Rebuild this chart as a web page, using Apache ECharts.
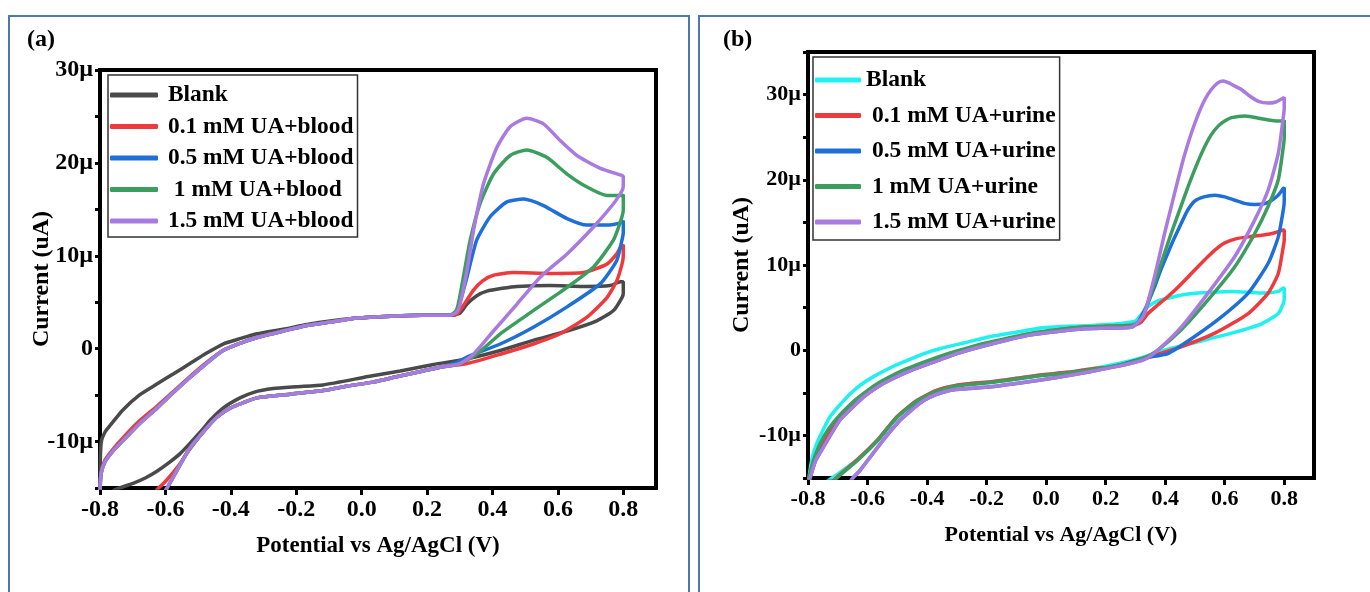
<!DOCTYPE html>
<html>
<head>
<meta charset="utf-8">
<script src="https://cdn.jsdelivr.net/npm/echarts@6/dist/echarts.min.js"></script>
<style>
html, body { margin: 0; padding: 0; width: 1370px; height: 592px; overflow: hidden; background: #fff; }
.frame { position: absolute; top: 15px; height: 640px; border: 2px solid #4d78ad; }
#frameA { left: 8px; width: 678px; }
#frameB { left: 698px; width: 720px; }
.chart { position: absolute; top: 0; height: 592px; }
#chartA { left: 0; width: 694px; }
#chartB { left: 694px; width: 676px; }
</style>
</head>
<body>
<div class="frame" id="frameA"></div>
<div class="frame" id="frameB"></div>
<div class="chart" id="chartA"></div>
<div class="chart" id="chartB"></div>
<script>
// ---- panel (a): uric acid spiked in blood, [potential V, current µA]
const namesA = ['Blank', '0.1 mM UA+blood', '0.5 mM UA+blood', '1 mM UA+blood', '1.5 mM UA+blood']
const colorsA = ['#4a4a4a', '#ee3a3c', '#1f6fd8', '#3b9e5e', '#a97ae0']

const blankBlood = [[-0.8,-17],[-0.799,-12],[-0.796,-10],[-0.785,-9.0],[-0.77,-8.3],[-0.73,-6.6],[-0.68,-5.0],[-0.626,-3.8],[-0.575,-2.7],[-0.525,-1.6],[-0.475,-0.5],[-0.424,0.5],[-0.37,1.1],[-0.32,1.6],[-0.24,2.1],[-0.167,2.6],[-0.09,3.0],[-0.014,3.3],[0.09,3.5],[0.188,3.6],[0.27,3.6],[0.3,3.8],[0.322,4.8],[0.352,5.7],[0.383,6.2],[0.43,6.5],[0.475,6.7],[0.577,6.8],[0.678,6.7],[0.76,6.8],[0.791,7.2],[0.8,7.2],
  [0.8,6.0],[0.796,5.5],[0.77,4.1],[0.719,3.0],[0.628,1.9],[0.525,0.9],[0.424,-0.2],[0.322,-1.1],[0.22,-1.7],[0.118,-2.4],[0.02,-3.0],[-0.118,-3.9],[-0.2,-4.1],[-0.271,-4.3],[-0.33,-4.7],[-0.372,-5.3],[-0.424,-6.4],[-0.46,-7.6],[-0.494,-9.0],[-0.525,-10.2],[-0.555,-11.3],[-0.59,-12.3],[-0.626,-13.2],[-0.66,-13.9],[-0.699,-14.5],[-0.748,-15.1],[-0.78,-15.8],[-0.8,-17]]

const ua01Blood = [[-0.8,-15.5],[-0.797,-13.4],[-0.785,-12.0],[-0.76,-10.8],[-0.73,-9.6],[-0.68,-7.8],[-0.626,-6.2],[-0.575,-4.6],[-0.525,-3.0],[-0.475,-1.5],[-0.424,-0.2],[-0.37,0.6],[-0.32,1.2],[-0.24,1.9],[-0.167,2.5],[-0.09,2.9],[-0.014,3.3],[0.09,3.5],[0.188,3.6],[0.27,3.6],[0.291,3.7],[0.31,4.6],[0.342,6.3],[0.37,7.3],[0.403,7.9],[0.464,8.2],[0.577,8.1],[0.679,8.2],[0.75,9.1],[0.78,10.2],[0.791,10.9],[0.8,11.2],
  [0.8,10.0],[0.796,9.1],[0.78,7.3],[0.75,5.5],[0.689,3.4],[0.607,1.6],[0.525,0.5],[0.424,-0.6],[0.322,-1.6],[0.24,-2.0],[0.188,-2.4],[0.11,-3.0],[0.035,-3.6],[-0.04,-4.0],[-0.118,-4.5],[-0.219,-4.9],[-0.32,-5.3],[-0.402,-6.4],[-0.44,-7.3],[-0.473,-8.5],[-0.525,-10.8],[-0.56,-12.6],[-0.6,-14.3],[-0.626,-15.2],[-0.65,-16.5]]

const ua05Blood = [[-0.8,-15.5],[-0.797,-13.5],[-0.785,-12.2],[-0.76,-11.0],[-0.73,-9.9],[-0.68,-8.1],[-0.626,-6.4],[-0.575,-4.7],[-0.525,-3.1],[-0.475,-1.6],[-0.424,-0.2],[-0.37,0.6],[-0.32,1.2],[-0.24,1.9],[-0.167,2.5],[-0.09,2.9],[-0.014,3.3],[0.09,3.5],[0.188,3.6],[0.27,3.6],[0.291,4.1],[0.305,5.5],[0.322,7.7],[0.352,11.7],[0.393,14.2],[0.444,15.8],[0.495,16.1],[0.556,15.4],[0.628,14.0],[0.689,13.3],[0.75,13.3],[0.796,13.6],[0.8,13.8],
  [0.8,12.5],[0.796,11.7],[0.78,9.5],[0.73,7.0],[0.628,4.5],[0.525,2.3],[0.424,0.5],[0.322,-0.9],[0.291,-1.5],[0.24,-2.0],[0.188,-2.4],[0.11,-3.0],[0.035,-3.6],[-0.04,-4.0],[-0.118,-4.5],[-0.219,-4.9],[-0.32,-5.3],[-0.402,-6.4],[-0.44,-7.3],[-0.473,-8.5],[-0.525,-10.7],[-0.56,-12.8],[-0.595,-15],[-0.62,-16.5]]

const ua1Blood = [[-0.8,-15.5],[-0.797,-13.5],[-0.785,-12.2],[-0.76,-11.0],[-0.73,-9.9],[-0.68,-8.1],[-0.626,-6.4],[-0.575,-4.7],[-0.525,-3.1],[-0.475,-1.6],[-0.424,-0.2],[-0.37,0.6],[-0.32,1.2],[-0.24,1.9],[-0.167,2.5],[-0.09,2.9],[-0.014,3.3],[0.09,3.5],[0.188,3.6],[0.27,3.6],[0.291,4.2],[0.311,7.7],[0.332,11.7],[0.362,15.6],[0.403,18.8],[0.454,20.8],[0.505,21.4],[0.566,20.6],[0.628,18.8],[0.689,17.4],[0.75,16.5],[0.796,16.5],[0.8,16.6],
  [0.8,15.0],[0.796,14.2],[0.77,11.7],[0.709,8.8],[0.628,6.6],[0.525,4.1],[0.424,1.6],[0.352,-0.6],[0.301,-1.6],[0.24,-2.0],[0.188,-2.4],[0.11,-3.0],[0.035,-3.6],[-0.04,-4.0],[-0.118,-4.5],[-0.219,-4.9],[-0.32,-5.3],[-0.402,-6.4],[-0.44,-7.3],[-0.473,-8.5],[-0.525,-10.7],[-0.56,-12.8],[-0.595,-15],[-0.62,-16.5]]

const ua15Blood = [[-0.8,-15.5],[-0.797,-13.5],[-0.785,-12.2],[-0.76,-11.0],[-0.73,-9.9],[-0.68,-8.1],[-0.626,-6.4],[-0.575,-4.7],[-0.525,-3.1],[-0.475,-1.6],[-0.424,-0.2],[-0.37,0.6],[-0.32,1.2],[-0.24,1.9],[-0.167,2.5],[-0.09,2.9],[-0.014,3.3],[0.09,3.5],[0.188,3.6],[0.27,3.6],[0.29,3.9],[0.301,4.8],[0.322,8.4],[0.342,12.7],[0.373,17.8],[0.414,21.7],[0.454,23.9],[0.505,24.8],[0.556,24.2],[0.607,22.4],[0.658,20.8],[0.73,19.4],[0.791,18.7],[0.8,18.5],
  [0.8,17.5],[0.796,17.0],[0.77,15.6],[0.709,13.1],[0.628,10.2],[0.546,7.7],[0.475,4.8],[0.403,1.9],[0.342,-0.6],[0.301,-1.6],[0.24,-2.0],[0.188,-2.4],[0.11,-3.0],[0.035,-3.6],[-0.04,-4.0],[-0.118,-4.5],[-0.219,-4.9],[-0.32,-5.3],[-0.402,-6.4],[-0.44,-7.3],[-0.473,-8.5],[-0.525,-10.7],[-0.56,-12.8],[-0.595,-15],[-0.62,-16.5]]

// ---- panel (b): uric acid spiked in urine
const namesB = ['Blank', '0.1 mM UA+urine', '0.5 mM UA+urine', '1 mM UA+urine', '1.5 mM UA+urine']
const colorsB = ['#1ff0f0', '#ee3a3c', '#1f6fd8', '#3b9e5e', '#a97ae0']

const blankUrine = [[-0.8,-16],[-0.795,-14.5],[-0.785,-12.5],[-0.771,-11.0],[-0.75,-9.4],[-0.726,-7.8],[-0.69,-6.3],[-0.658,-5.1],[-0.62,-4.0],[-0.58,-3.1],[-0.52,-2.0],[-0.467,-1.2],[-0.41,-0.4],[-0.355,0.2],[-0.27,0.9],[-0.186,1.6],[-0.1,2.1],[-0.018,2.6],[0.07,2.8],[0.151,2.9],[0.24,3.1],[0.3,3.4],[0.32,4.2],[0.342,5.1],[0.375,5.8],[0.409,6.1],[0.46,6.5],[0.51,6.7],[0.623,6.9],[0.735,6.7],[0.78,6.9],[0.797,7.3],[0.8,7.3],
  [0.8,6.0],[0.797,5.5],[0.78,4.3],[0.724,3.1],[0.623,2.0],[0.51,1.0],[0.398,0],[0.319,-0.9],[0.24,-1.6],[0.151,-2.2],[0.07,-2.6],[-0.018,-2.9],[-0.1,-3.3],[-0.186,-3.7],[-0.3,-4.1],[-0.366,-4.7],[-0.434,-5.9],[-0.501,-7.8],[-0.568,-10.6],[-0.636,-12.9],[-0.703,-14.6],[-0.74,-15.5],[-0.78,-16.5]]

const ua01Urine = [[-0.8,-16],[-0.795,-14.8],[-0.78,-13],[-0.749,-10.8],[-0.72,-9.2],[-0.693,-7.9],[-0.65,-6.3],[-0.614,-5.2],[-0.57,-4.2],[-0.524,-3.3],[-0.47,-2.5],[-0.411,-1.6],[-0.355,-0.9],[-0.3,-0.3],[-0.22,0.5],[-0.13,1.3],[-0.05,1.9],[0.038,2.4],[0.12,2.7],[0.207,2.8],[0.27,2.9],[0.3,3.0],[0.319,3.3],[0.342,4.3],[0.375,5.3],[0.409,6.3],[0.443,7.4],[0.477,8.6],[0.51,9.8],[0.544,11.0],[0.572,11.9],[0.6,12.6],[0.64,13.1],[0.679,13.3],[0.746,13.6],[0.78,13.9],[0.797,14.1],[0.8,14.1],
  [0.8,13.0],[0.797,12.2],[0.78,9.0],[0.746,6.7],[0.679,4.3],[0.567,2.0],[0.454,0.4],[0.364,-0.6],[0.319,-1.2],[0.24,-1.9],[0.151,-2.2],[0.07,-2.6],[-0.018,-2.9],[-0.1,-3.3],[-0.186,-3.7],[-0.3,-4.1],[-0.366,-4.7],[-0.434,-5.9],[-0.501,-7.8],[-0.568,-10.6],[-0.636,-12.9],[-0.703,-14.9],[-0.73,-16]]

const ua05Urine = [[-0.8,-16],[-0.793,-15],[-0.775,-13],[-0.749,-11.4],[-0.72,-9.7],[-0.693,-8.2],[-0.65,-6.7],[-0.614,-5.5],[-0.57,-4.4],[-0.524,-3.5],[-0.47,-2.6],[-0.411,-1.8],[-0.355,-1.1],[-0.3,-0.4],[-0.22,0.4],[-0.13,1.2],[-0.05,1.8],[0.038,2.2],[0.12,2.5],[0.207,2.6],[0.286,2.7],[0.305,3.1],[0.319,3.9],[0.34,5.4],[0.364,7.4],[0.385,9.4],[0.409,11.4],[0.43,13.1],[0.454,14.9],[0.475,16.4],[0.499,17.5],[0.53,18.0],[0.567,18.2],[0.6,18.0],[0.634,17.6],[0.67,17.2],[0.701,17.1],[0.735,17.2],[0.758,17.6],[0.78,18.2],[0.797,19.0],[0.8,19.1],
  [0.8,17.5],[0.797,16.5],[0.78,13.3],[0.746,10.2],[0.679,6.7],[0.589,3.9],[0.499,1.6],[0.409,-0.4],[0.33,-0.9],[0.24,-1.8],[0.151,-2.5],[0.07,-3.0],[-0.018,-3.5],[-0.1,-3.9],[-0.186,-4.3],[-0.26,-4.5],[-0.321,-4.7],[-0.37,-5.2],[-0.411,-5.9],[-0.45,-6.9],[-0.49,-8.2],[-0.525,-9.6],[-0.557,-11.0],[-0.59,-12.5],[-0.625,-14.1],[-0.647,-14.9],[-0.67,-16]]

const ua1Urine = [[-0.8,-16],[-0.795,-14.8],[-0.78,-12.8],[-0.76,-11.0],[-0.73,-9.2],[-0.693,-7.6],[-0.65,-6.1],[-0.614,-5.1],[-0.57,-4.0],[-0.524,-3.1],[-0.47,-2.2],[-0.411,-1.4],[-0.355,-0.7],[-0.3,-0.1],[-0.22,0.7],[-0.13,1.4],[-0.05,2.0],[0.038,2.4],[0.12,2.7],[0.207,2.8],[0.286,2.9],[0.31,3.3],[0.33,4.3],[0.352,6.6],[0.375,9.0],[0.398,11.4],[0.42,13.7],[0.449,16.5],[0.477,19.2],[0.505,21.7],[0.533,23.9],[0.555,25.3],[0.578,26.3],[0.6,26.9],[0.623,27.3],[0.668,27.5],[0.735,27.1],[0.78,26.9],[0.797,26.9],[0.8,27.0],
  [0.8,25.0],[0.797,23.9],[0.78,20.0],[0.746,16.9],[0.701,13.7],[0.634,9.8],[0.544,5.9],[0.454,2.4],[0.375,0],[0.33,-0.9],[0.24,-1.8],[0.151,-2.3],[0.07,-2.7],[-0.018,-3.0],[-0.1,-3.4],[-0.186,-3.8],[-0.3,-4.2],[-0.366,-4.8],[-0.434,-6.0],[-0.501,-7.9],[-0.568,-10.7],[-0.636,-13.0],[-0.703,-15.0],[-0.73,-16]]

const ua15Urine = [[-0.8,-16],[-0.793,-15],[-0.775,-13],[-0.749,-11.4],[-0.72,-9.7],[-0.693,-8.2],[-0.65,-6.7],[-0.614,-5.5],[-0.57,-4.4],[-0.524,-3.5],[-0.47,-2.6],[-0.411,-1.8],[-0.355,-1.1],[-0.3,-0.4],[-0.22,0.4],[-0.13,1.2],[-0.05,1.8],[0.038,2.2],[0.12,2.5],[0.207,2.6],[0.286,2.7],[0.31,3.3],[0.33,4.3],[0.364,8.6],[0.398,13.7],[0.42,16.8],[0.443,20.0],[0.465,22.9],[0.488,25.5],[0.51,27.6],[0.533,29.4],[0.555,30.6],[0.578,31.4],[0.595,31.6],[0.612,31.4],[0.634,31.0],[0.656,30.6],[0.685,29.8],[0.713,29.2],[0.745,29.0],[0.769,29.1],[0.797,29.6],[0.8,29.7],
  [0.8,28.5],[0.797,27.4],[0.78,23.1],[0.746,18.8],[0.701,15.3],[0.634,11.0],[0.544,6.7],[0.454,2.7],[0.375,0],[0.33,-1.1],[0.24,-1.9],[0.151,-2.5],[0.07,-3.0],[-0.018,-3.5],[-0.1,-3.9],[-0.186,-4.3],[-0.26,-4.5],[-0.321,-4.7],[-0.37,-5.2],[-0.411,-5.9],[-0.45,-7.0],[-0.49,-8.2],[-0.525,-9.6],[-0.557,-11.0],[-0.59,-12.5],[-0.625,-14.1],[-0.647,-14.9],[-0.67,-16]]

const dataA = [blankBlood, ua01Blood, ua05Blood, ua1Blood, ua15Blood]
const dataB = [blankUrine, ua01Urine, ua05Urine, ua1Urine, ua15Urine]

const FONT = "'Liberation Serif', 'Times New Roman', serif"

function buildOption(p) {
    const txt = (size) => ({ fontFamily: FONT, fontWeight: 'bold', fontSize: size, color: '#000' })
    return {
        animation: false,
        title: {
            text: p.tag, left: p.tagLeft, top: p.tagTop,
            textStyle: txt(24)
        },
        grid: {
            left: p.grid[0], top: p.grid[1], width: p.grid[2], height: p.grid[3],
            show: true, borderColor: '#000', borderWidth: 4, backgroundColor: 'transparent'
        },
        legend: {
            orient: 'vertical', left: p.legend.left, top: p.legend.top,
            padding: p.legend.padding, itemGap: p.legend.gap,
            itemWidth: p.legend.itemWidth, itemHeight: 5, icon: 'roundRect',
            borderColor: '#333', borderWidth: 1.5, selectedMode: false,
            data: p.names,
            formatter: p.legend.formatter,
            textStyle: Object.assign(txt(p.legend.fontSize), { lineHeight: 26, padding: p.legend.textPad })
        },
        xAxis: {
            type: 'value', min: -0.8, max: 0.9, interval: 0.2,
            name: 'Potential vs Ag/AgCl (V)', nameLocation: 'middle', nameGap: p.xNameGap,
            nameTextStyle: txt(p.xNameSize),
            axisLine: { onZero: false, lineStyle: { color: '#000', width: 4 } },
            axisTick: { length: 7, lineStyle: { color: '#000', width: 3 } },
            splitLine: { show: false },
            axisLabel: Object.assign(txt(p.tickSize), {
                margin: 10, showMaxLabel: false,
                formatter: v => (v > 0.85 ? '' : v.toFixed(1))
            })
        },
        yAxis: {
            type: 'value', min: -15, max: p.yMax, interval: 5,
            name: 'Current (uA)', nameLocation: 'middle', nameGap: p.yNameGap,
            nameMoveOverlap: false,
            nameTextStyle: txt(24),
            axisLine: { onZero: false, lineStyle: { color: '#000', width: 4 } },
            axisTick: { length: 5, lineStyle: { color: '#000', width: 3 } },
            splitLine: { show: false },
            axisLabel: Object.assign(txt(p.tickSize), {
                margin: 7,
                formatter: v => (v % 10 !== 0 ? '' : (v === 0 ? '0' : v + 'µ'))
            })
        },
        series: p.names.map((n, i) => ({
            name: n, type: 'line', data: p.data[i],
            showSymbol: false, smooth: 0.2, clip: true,
            lineStyle: { color: p.colors[i], width: 3.5 },
            itemStyle: { color: p.colors[i] }
        }))
    }
}

const chartA = echarts.init(document.getElementById('chartA'))
chartA.setOption(buildOption({
    tag: '(a)', tagLeft: 22, tagTop: 23,
    grid: [100, 70, 556, 418], yMax: 30,
    names: namesA, colors: colorsA, data: dataA,
    tickSize: 24, xNameSize: 23, xNameGap: 47, yNameGap: 46,
    legend: {
        left: 108, top: 75, padding: [7, 4, 3, 2], gap: 5.5, itemWidth: 48, fontSize: 23.4,
        textPad: [0, 0, 0, 5],
        formatter: n => (n.startsWith('1 mM') ? ' ' + n : n)
    }
}))

const chartB = echarts.init(document.getElementById('chartB'))
chartB.setOption(buildOption({
    tag: '(b)', tagLeft: 24, tagTop: 23,
    grid: [114, 52, 506, 426], yMax: 35,
    names: namesB, colors: colorsB, data: dataB,
    tickSize: 22, xNameSize: 22, xNameGap: 46, yNameGap: 54,
    legend: {
        left: 119, top: 57, padding: [10, 4, 5, 2], gap: 9.5, itemWidth: 46, fontSize: 23.5,
        textPad: [0, 0, 0, 0],
        formatter: n => (n === 'Blank' ? n : ' ' + n)
    }
}))

window.addEventListener('resize', () => {
    chartA.resize()
    chartB.resize()
})
</script>
</body>
</html>
